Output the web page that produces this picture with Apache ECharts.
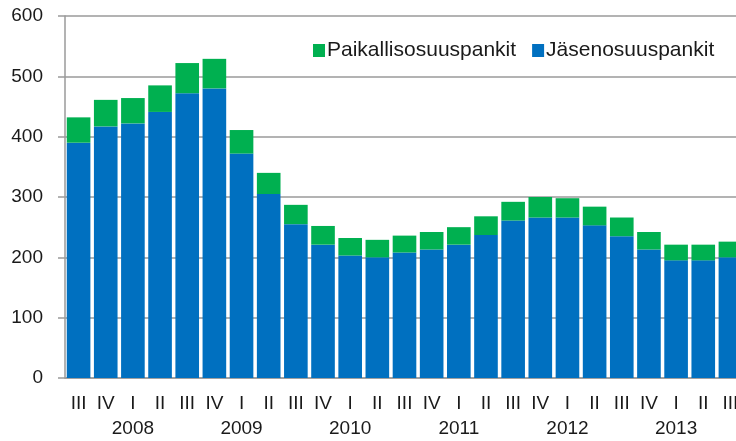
<!DOCTYPE html>
<html>
<head>
<meta charset="utf-8">
<script src="https://cdn.jsdelivr.net/npm/echarts@6/dist/echarts.min.js"></script>
<style>html,body{margin:0;padding:0;background:#fff;overflow:hidden;width:736px;height:441px;}#c{width:744px;height:441px;}</style>
</head>
<body>
<div id="c"></div>
<script>
var quarters = ['III','IV','I','II','III','IV','I','II','III','IV','I','II','III','IV','I','II','III','IV','I','II','III','IV','I','II','III'];
var yearLabels = ['','','2008','','','','2009','','','','2010','','','','2011','','','','2012','','','','2013','',''];
var jasen = [390,417,422,441,472,480,372,305,255,221,203,200,208,213,221,237,261,266,266,253,235,213,195,195,200];
var paikall = [42,44,42,44,50,49,39,35,32,31,29,29,28,29,29,31,31,34,32,31,31,29,26,26,26];
var yTicks = {min:0, max:600, interval:100};

var chart = echarts.init(document.getElementById('c'), null, {renderer:'canvas'});
var font = 'Liberation Sans, Arial, sans-serif';
chart.setOption({
  animation:false,
  backgroundColor:'#ffffff',
  grid:{left:65, right:0, top:16, bottom:61, containLabel:false},
  legend:{
    data:['Paikallisosuuspankit','Jäsenosuuspankit'],
    left:308, top:35, icon:'rect', itemWidth:12, itemHeight:13, itemGap:16,
    textStyle:{fontFamily:font, fontSize:21, color:'#1a1a1a', padding:[0,0,0,-3]}
  },
  xAxis:{
    type:'category', data:quarters,
    axisLine:{lineStyle:{color:'#9a9a9a', width:1.5}},
    axisTick:{show:false},
    axisLabel:{
      interval:0, margin:13, fontFamily:font, fontSize:19, color:'#1a1a1a', lineHeight:25,
      formatter:function(v, i){ return v + '\n' + (yearLabels[i] || ' '); }
    }
  },
  yAxis:{
    type:'value', min:yTicks.min, max:yTicks.max, interval:yTicks.interval,
    axisLine:{show:true, lineStyle:{color:'#9a9a9a', width:1.5}},
    axisTick:{show:true, length:7, lineStyle:{color:'#9a9a9a', width:1.5}},
    splitLine:{lineStyle:{color:'#9a9a9a', width:1.5}},
    axisLabel:{margin:22, fontFamily:font, fontSize:19, color:'#1a1a1a'}
  },
  series:[
    {name:'Jäsenosuuspankit', type:'bar', stack:'t', data:jasen, barCategoryGap:'13%',
     itemStyle:{color:'#0070C0'}},
    {name:'Paikallisosuuspankit', type:'bar', stack:'t', data:paikall, barCategoryGap:'13%',
     itemStyle:{color:'#00B050'}}
  ]
});
</script>
</body>
</html>
